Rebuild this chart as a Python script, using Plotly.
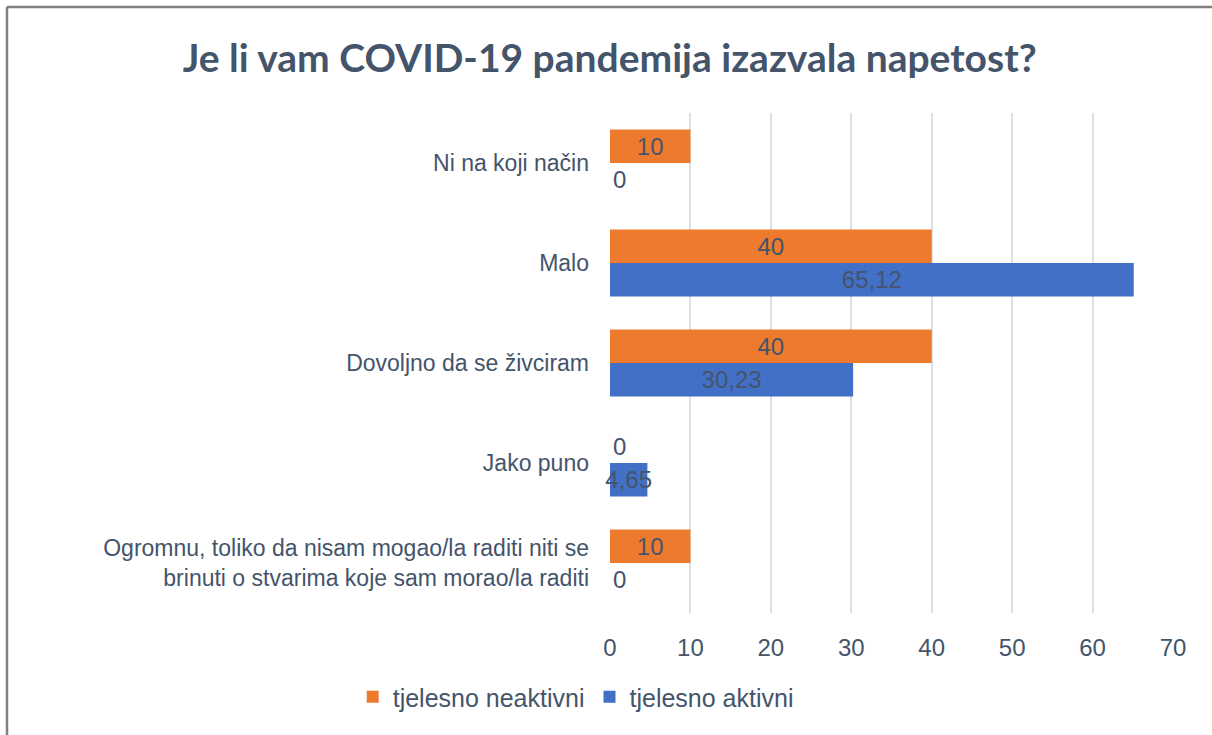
import plotly.graph_objects as go

categories = [
    "Ni na koji način",
    "Malo",
    "Dovoljno da se živciram",
    "Jako puno",
    "Ogromnu, toliko da nisam mogao/la raditi niti se<br>brinuti o stvarima koje sam morao/la raditi",
]
neaktivni = [10, 40, 40, 0, 10]
aktivni = [0, 65.12, 30.23, 4.65, 0]
series_names = ["tjelesno neaktivni", "tjelesno aktivni"]
colors = ["#EE7A2E", "#4270C6"]
x_ticks = [0, 10, 20, 30, 40, 50, 60, 70]

TEXT = "#44546A"
FONT = "Liberation Sans, Arial, sans-serif"

def fmt(v):
    return ("%g" % v).replace(".", ",")

fig = go.Figure()
for name, vals, col in zip(series_names, [neaktivni, aktivni], colors):
    fig.add_trace(go.Bar(
        y=categories, x=vals, name=name, orientation="h",
        marker=dict(color=col, line=dict(width=0)),
        text=[fmt(v) for v in vals],
        textposition=["outside" if v == 0 else "inside" for v in vals],
        insidetextanchor="middle",
        constraintext="none",
        textfont=dict(family=FONT, size=24, color=TEXT),
        outsidetextfont=dict(family=FONT, size=24, color=TEXT),
        insidetextfont=dict(family=FONT, size=24, color=TEXT),
        cliponaxis=False,
    ))

bx = (7 - 610) / 563
by = (613 - 7) / 500

fig.update_layout(
    width=1212, height=735,
    paper_bgcolor="white", plot_bgcolor="white",
    barmode="group", bargap=0.33, bargroupgap=0,
    margin=dict(l=610, r=39, t=113, b=122),
    title=dict(
        text="<b>Je li vam COVID-19 pandemija izazvala napetost?</b>",
        font=dict(family="Lato, sans-serif", size=39, color=TEXT),
        x=0.503, xref="container", xanchor="center",
        y=1 - 58 / 735, yref="container", yanchor="middle",
    ),
    xaxis=dict(
        range=[0, 70], tickvals=x_ticks, ticktext=[str(t) for t in x_ticks],
        showgrid=True, gridcolor="#DCE0E6", gridwidth=2,
        zeroline=False, showline=False,
        tickfont=dict(family=FONT, size=24, color=TEXT),
        ticks="", ticklabelstandoff=18,
    ),
    yaxis=dict(
        autorange="reversed", showgrid=False, zeroline=False, showline=False,
        tickfont=dict(family=FONT, size=23, color=TEXT),
        ticks="", ticklabelstandoff=20,
    ),
    legend=dict(
        orientation="h", xref="container", x=0.475, xanchor="center",
        yref="container", y=1 - 697 / 735, yanchor="middle",
        font=dict(family=FONT, size=25, color=TEXT),
        itemsizing="constant",
    ),
    showlegend=True,
    shapes=[
        dict(type="line", xref="paper", yref="paper",
             x0=bx, x1=2.0, y0=by, y1=by,
             line=dict(color="#808080", width=2.5), layer="above"),
        dict(type="line", xref="paper", yref="paper",
             x0=bx, x1=bx, y0=-1.0, y1=by,
             line=dict(color="#808080", width=2.5), layer="above"),
    ],
)

fig.write_html(
    "out.html",
    config={"displayModeBar": False},
    post_script="document.body.style.margin='0';document.body.style.overflow='hidden';",
)
